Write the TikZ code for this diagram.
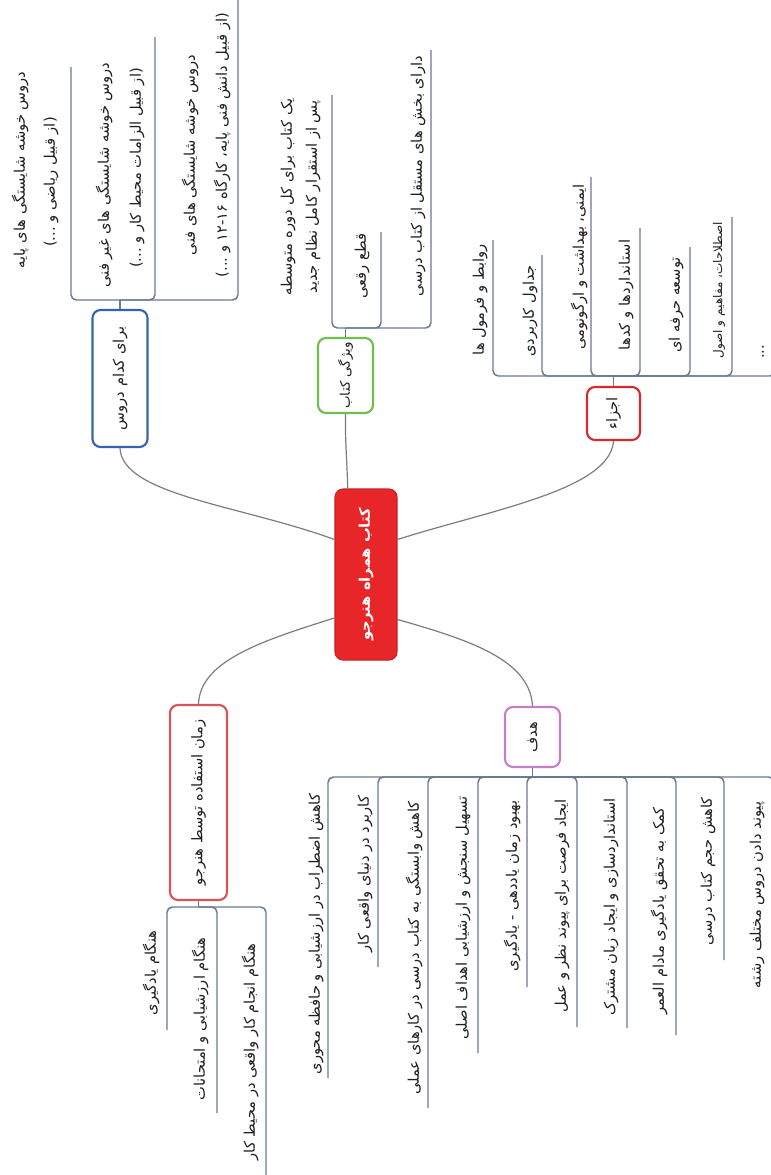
\documentclass[tikz,border=0pt]{standalone}
\usepackage{graphicx}
\usepackage{fontspec}
\newfontfamily\arabicfont[Script=Arabic]{DejaVu Sans}
\TeXXeTstate=1
\newcommand{\fa}[1]{\beginR #1\endR}
\definecolor{ulc}{RGB}{105,120,150}
\definecolor{conc}{RGB}{120,125,135}
\definecolor{rootred}{RGB}{232,38,42}
\definecolor{blueb}{RGB}{52,100,175}
\definecolor{greenb}{RGB}{110,190,80}
\definecolor{redb}{RGB}{215,40,46}
\definecolor{timeb}{RGB}{215,85,90}
\definecolor{pinkb}{RGB}{200,125,200}
\definecolor{txtc}{RGB}{30,30,30}
\begin{document}
\begin{tikzpicture}[x=0.75pt,y=-0.75pt,
  txt/.style={rotate=90,inner sep=0pt,text=txtc,font=\arabicfont\fontsize{11}{13}\selectfont},
  smalltxt/.style={txt,font=\arabicfont\fontsize{9}{11}\selectfont},
  box/.style={draw,line width=1.6pt,rounded corners=6pt,fill=white,inner sep=0pt,text=txtc,font=\arabicfont\fontsize{11}{13}\selectfont},
  rootbox/.style={draw=rootred!85!black,line width=0.8pt,fill=rootred,rounded corners=6pt,inner sep=0pt,text=white,font=\arabicfont\bfseries\fontsize{11}{13}\selectfont},
  ul/.style={draw=ulc,line width=1.1pt,rounded corners=4pt},
  conn/.style={draw=conc,line width=0.9pt}]
\fill[white] (0,0) rectangle (771,1175);
\useasboundingbox (0,0) rectangle (771,1175);

% ---------- boxes ----------
\node[rootbox,minimum width=62*0.75pt,minimum height=171*0.75pt] (root) at (366,574.5) {\rotatebox{90}{\fa{کتاب همراه هنرجو}}};
\node[box,draw=blueb,minimum width=55*0.75pt,minimum height=137*0.75pt] (blue) at (120,378.5) {\rotatebox{90}{\fa{برای کدام دروس}}};
\node[box,draw=greenb,minimum width=55*0.75pt,minimum height=75*0.75pt,font=\arabicfont\fontsize{10}{12}\selectfont] (green) at (345.5,375.5) {\rotatebox{90}{\fa{ویژگی کتاب}}};
\node[box,draw=redb,minimum width=53*0.75pt,minimum height=53*0.75pt] (parts) at (613.5,413.5) {\rotatebox{90}{\fa{اجزاء}}};
\node[box,draw=timeb,minimum width=57*0.75pt,minimum height=195*0.75pt] (time) at (198.5,802.5) {\rotatebox{90}{\fa{زمان استفاده توسط هنرجو}}};
\node[box,draw=pinkb,minimum width=55*0.75pt,minimum height=60*0.75pt] (goal) at (532.5,737) {\rotatebox{90}{\fa{هدف}}};

% ---------- main connectors ----------
\draw[conn] (root.132) .. controls (240,505) and (122,495) .. (blue.south);
\draw[conn] (root.102) .. controls (347,460) and (345,440) .. (green.south);
\draw[conn] (root.48) .. controls (490,510) and (610,490) .. (parts.south);
\draw[conn] (root.234.5) .. controls (265,640) and (200,660) .. (time.north);
\draw[conn] (root.305.5) .. controls (470,640) and (530,660) .. (goal.north);

% ---------- blue group ----------
\coordinate (bbar) at (120,300);
\coordinate (b1) at (71,67);
\coordinate (b2) at (155,37);
\coordinate (b3) at (238,-10);
\draw[ul] (blue.north) -- (bbar);
\draw[ul] (bbar) -| (b1);
\draw[ul] (bbar) -| (b2);
\draw[ul] (bbar) -| (b3);
\node[txt] (b1a) at (20,170) {\fa{دروس خوشه شایستگی های پایه}};
\node[txt] (b1b) at (51,182) {\fa{(از قبیل ریاضی و ...)}};
\node[txt] (b2a) at (104,175) {\fa{دروس خوشه شایستگی های غیر فنی}};
\node[txt] (b2b) at (137,168) {\fa{(از قبیل الزامات محیط کار و ...)}};
\node[txt] (b3a) at (190,155) {\fa{دروس خوشه شایستگی های فنی}};
\node[txt] (b3b) at (222,145) {\fa{(از قبیل دانش فنی پایه، کارگاه ۱۲-۱۶ و ...)}};

% ---------- green group ----------
\coordinate (gbar) at (345.5,328);
\coordinate (g1) at (332,95);
\coordinate (g2) at (381,232);
\coordinate (g3) at (431,50);
\draw[ul] (green.north) -- (gbar);
\draw[ul] (gbar) -| (g1);
\draw[ul] (gbar) -| (g2);
\draw[ul] (gbar) -| (g3);
\node[txt] (g1a) at (288,197) {\fa{یک کتاب برای کل دوره متوسطه}};
\node[txt] (g1b) at (313,197) {\fa{پس از استقرار کامل نظام جدید}};
\node[txt] (g2a) at (362,266) {\fa{قطع رقعی}};
\node[txt] (g3a) at (418,176) {\fa{دارای بخش های مستقل از کتاب درسی}};

% ---------- parts group ----------
\coordinate (pbar) at (613.5,376);
\coordinate (p1) at (493,240);
\coordinate (p2) at (542,255);
\coordinate (p3) at (591,177);
\coordinate (p4) at (640,228);
\coordinate (p5) at (690,247);
\coordinate (p6) at (732,217);
\coordinate (p7) at (775,335);
\draw[ul] (parts.north) -- (pbar);
\foreach \c in {p1,p2,p3,p4,p5,p6,p7} \draw[ul] (pbar) -| (\c);
\node[txt] (p1a) at (480,300) {\fa{روابط و فرمول ها}};
\node[txt] (p2a) at (530,311) {\fa{جداول کاربردی}};
\node[txt] (p3a) at (579,267) {\fa{ایمنی، بهداشت و ارگونومی}};
\node[txt] (p4a) at (626,295) {\fa{استانداردها و کدها}};
\node[txt] (p5a) at (676,305) {\fa{توسعه حرفه ای}};
\node[smalltxt] (p6a) at (719,290) {\fa{اصطلاحات، مفاهیم و اصول}};
\node[txt] (p7a) at (763,352) {...};

% ---------- time group ----------
\coordinate (tbar) at (198.5,907);
\coordinate (t1) at (167,1030);
\coordinate (t2) at (217,1113);
\coordinate (t3) at (266,1185);
\draw[ul] (time.south) -- (tbar);
\draw[ul] (tbar) -| (t1);
\draw[ul] (tbar) -| (t2);
\draw[ul] (tbar) -| (t3);
\node[txt] (t1a) at (151,973) {\fa{هنگام یادگیری}};
\node[txt] (t2a) at (200,1019) {\fa{هنگام ارزشیابی و امتحانات}};
\node[txt] (t3a) at (250,1052) {\fa{هنگام انجام کار واقعی در محیط کار}};

% ---------- goal group ----------
\coordinate (kbar) at (532.5,777);
\coordinate (k1) at (328,1078);
\coordinate (k2) at (378,967);
\coordinate (k3) at (428,1108);
\coordinate (k4) at (478,1053);
\coordinate (k5) at (527,987);
\coordinate (k6) at (577,1027);
\coordinate (k7) at (627,1028);
\coordinate (k8) at (676,1035);
\coordinate (k9) at (724,960);
\coordinate (k10) at (774,1008);
\draw[ul] (goal.south) -- (kbar);
\foreach \c in {k1,k2,k3,k4,k5,k6,k7,k8,k9,k10} \draw[ul] (kbar) -| (\c);
\node[txt] (k1a) at (316,934) {\fa{کاهش اضطراب در ارزشیابی و حافظه محوری}};
\node[txt] (k2a) at (365,874) {\fa{کاربرد در دنیای واقعی کار}};
\node[txt] (k3a) at (414,948) {\fa{کاهش وابستگی به کتاب درسی در کارهای عملی}};
\node[txt] (k4a) at (463,918) {\fa{تسهیل سنجش و ارزشیابی اهداف اصلی}};
\node[txt] (k5a) at (512,886) {\fa{بهبود زمان یاددهی - یادگیری}};
\node[txt] (k6a) at (562,906) {\fa{ایجاد فرصت برای پیوند نظر و عمل}};
\node[txt] (k7a) at (611,907) {\fa{استانداردسازی و ایجاد زبان مشترک}};
\node[txt] (k8a) at (659,911) {\fa{کمک به تحقق یادگیری مادام العمر}};
\node[txt] (k9a) at (708,871) {\fa{کاهش حجم کتاب درسی}};
\node[txt] (k10a) at (757,895) {\fa{پیوند دادن دروس مختلف رشته}};
\end{tikzpicture}
\end{document}
